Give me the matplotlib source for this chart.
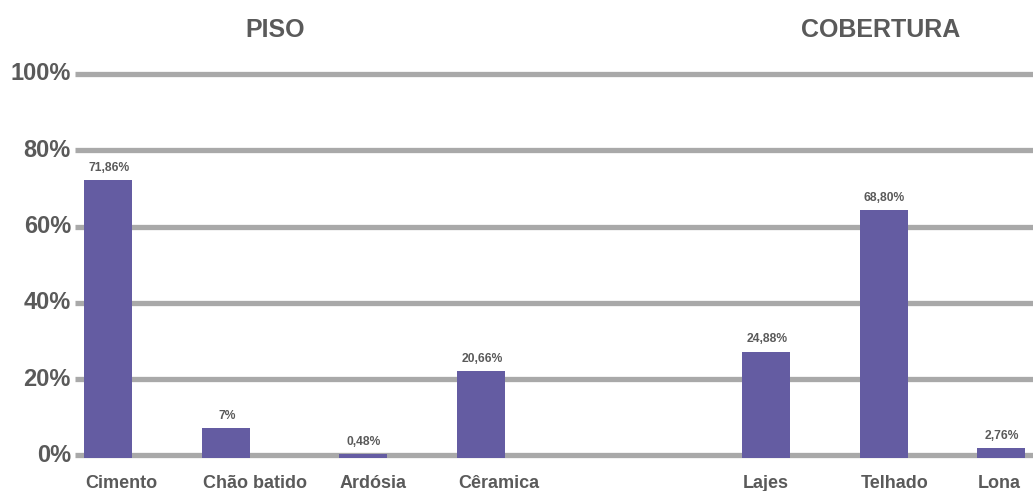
import matplotlib
matplotlib.use("Agg")
import matplotlib.pyplot as plt

# Data
categories = ["Cimento", "Chão batido", "Ardósia", "Cêramica", "Lajes", "Telhado", "Lona"]
bar_values = [72.2, 7.2, 0.4, 22.0, 27.2, 64.3, 1.8]   # visual bar heights (%)
value_labels = ["71,86%", "7%", "0,48%", "20,66%", "24,88%", "68,80%", "2,76%"]
group_titles = ["PISO", "COBERTURA"]
y_ticks = [0, 20, 40, 60, 80, 100]
y_tick_labels = ["0%", "20%", "40%", "60%", "80%", "100%"]

# Layout (pixel-based x positions)
W, H = 1033, 491
positions = [108, 226, 363, 481, 766, 883.5, 1001]
title_x = [275, 881]
bar_w = 48

BAR = "#645ca2"
GRID = "#a9a9a9"
TXT = "#5a5a5a"
plt.rcParams['font.family'] = ['Liberation Sans', 'DejaVu Sans']

fig = plt.figure(figsize=(W / 100, H / 100), dpi=100)
ax = fig.add_axes([0, 0, 1, 1])
zero_px, scale = 455.3, 3.813
ax.set_xlim(0, W)
ax.set_ylim((zero_px - H) / scale, zero_px / scale)
ax.axis("off")

for t, lab in zip(y_ticks, y_tick_labels):
    ax.plot([75, W], [t, t], color=GRID, lw=3.8, solid_capstyle="butt", zorder=1)
    ax.text(71, t, lab, ha="right", va="center", fontsize=17, fontweight="bold", color=TXT)

base = -0.8
ax.bar(positions, [v - base for v in bar_values], bottom=base, width=bar_w,
       color=BAR, zorder=2)

for x, v, lab in zip(positions, bar_values, value_labels):
    ax.text(x + 1, v + 1.6, lab, ha="center", va="bottom", fontsize=8.7,
            fontweight="semibold", color=TXT)

for x, c in zip(positions, categories):
    ax.text(x - bar_w / 2 + 1, -7.3, c, ha="left", va="center", fontsize=13,
            fontweight="bold", color=TXT)

for x, t in zip(title_x, group_titles):
    ax.text(x, (zero_px - 30) / scale, t, ha="center", va="center", fontsize=18,
            fontweight="bold", color=TXT)

fig.savefig("out.png", dpi=100)
